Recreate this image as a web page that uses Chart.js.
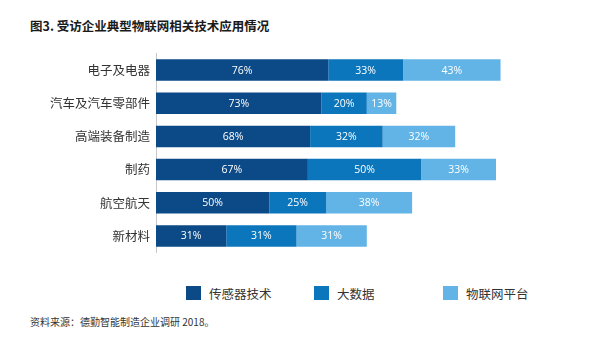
<!DOCTYPE html>
<html>
<head>
<meta charset="utf-8">
<script src="https://cdn.jsdelivr.net/npm/chart.js@4/dist/chart.umd.min.js"></script>
<style>
  html, body { margin: 0; padding: 0; background: #fff; }
  body { width: 592px; height: 339px; position: relative; overflow: hidden;
         font-family: "Noto Sans CJK SC", "Noto Sans", sans-serif; color: #222; }
  #title { position: absolute; left: 30px; top: 17px; font-size: 12.5px; font-weight: bold; color: #1a1a1a; line-height: 18px; white-space: nowrap; }
  #source { position: absolute; left: 30px; top: 314px; font-size: 10px; color: #333; line-height: 15px; white-space: nowrap; }
  #chartWrap { position: absolute; left: 0; top: 40px; width: 592px; height: 226px; }
  #legend { position: absolute; top: 284px; left: 0; width: 592px; height: 18px; }
  .item { position: absolute; top: 0; height: 18px; display: flex; align-items: center; font-size: 12.5px; color: #333; white-space: nowrap; }
  .box { width: 15px; height: 14px; margin-right: 8px; }
</style>
</head>
<body>
<div id="title">图3. 受访企业典型物联网相关技术应用情况</div>
<div id="chartWrap"><canvas id="c"></canvas></div>
<div id="legend"></div>
<div id="source">资料来源：德勤智能制造企业调研 2018。</div>
<script>
const categories = ["电子及电器", "汽车及汽车零部件", "高端装备制造", "制药", "航空航天", "新材料"];
const seriesNames = ["传感器技术", "大数据", "物联网平台"];
const sensorValues = [76, 73, 68, 67, 50, 31];
const bigDataValues = [33, 20, 32, 50, 25, 31];
const iotPlatformValues = [43, 13, 32, 33, 38, 31];
const seriesColors = ["#0c4a87", "#0b76bc", "#62b4e6"];
const legendLeft = [186, 314, 443];

const seriesValues = [sensorValues, bigDataValues, iotPlatformValues];

// white value labels centred in each bar segment
const segmentLabels = {
  id: 'segmentLabels',
  afterDatasetsDraw(chart) {
    const ctx = chart.ctx;
    ctx.save();
    ctx.fillStyle = '#ffffff';
    ctx.font = '10.5px "Open Sans", "Noto Sans", sans-serif';
    ctx.textAlign = 'center';
    ctx.textBaseline = 'middle';
    chart.data.datasets.forEach((ds, di) => {
      const meta = chart.getDatasetMeta(di);
      meta.data.forEach((el, i) => {
        const p = el.getProps(['x', 'y', 'base'], true);
        ctx.fillText(ds.data[i] + '%', (p.x + p.base) / 2, p.y + 0.5);
      });
    });
    ctx.restore();
  }
};

new Chart(document.getElementById('c'), {
  type: 'bar',
  data: {
    labels: categories,
    datasets: seriesNames.map((name, i) => ({
      label: name,
      data: seriesValues[i],
      backgroundColor: seriesColors[i],
      borderWidth: 0,
      categoryPercentage: 0.65,
      barPercentage: 1
    }))
  },
  options: {
    indexAxis: 'y',
    responsive: true,
    maintainAspectRatio: false,
    animation: false,
    layout: { padding: { left: 0, right: 28, top: 6, bottom: 7 } },
    plugins: { legend: { display: false }, tooltip: { enabled: false } },
    scales: {
      x: { stacked: true, min: 0, max: 180, display: false },
      y: {
        stacked: true,
        grid: { display: false, drawTicks: false },
        border: { display: true, color: '#c8c8c8', width: 1 },
        ticks: {
          color: '#333',
          padding: 6,
          font: { family: '"Noto Sans CJK SC", sans-serif', size: 12.5 }
        },
        afterFit(scale) { scale.width = 156; }
      }
    }
  },
  plugins: [segmentLabels]
});

const legend = document.getElementById('legend');
seriesNames.forEach((name, i) => {
  const item = document.createElement('div');
  item.className = 'item';
  item.style.left = legendLeft[i] + 'px';
  const box = document.createElement('span');
  box.className = 'box';
  box.style.background = seriesColors[i];
  item.appendChild(box);
  item.appendChild(document.createTextNode(name));
  legend.appendChild(item);
});
</script>
</body>
</html>
